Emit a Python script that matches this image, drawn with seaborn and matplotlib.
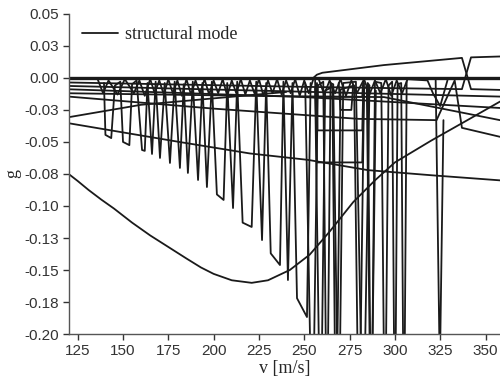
import matplotlib
matplotlib.use("Agg")
import matplotlib.pyplot as plt
import seaborn as sns

# ---------------- data ----------------
v_zero = [120, 358]
g_zero = [0.0, 0.0]

v_l1 = [120, 250, 337, 342, 358]
g_l1 = [-0.0036, -0.0070, -0.0088, 0.0160, 0.0167]

v_l2 = [120, 358]
g_l2 = [-0.0063, -0.0146]

v_l3 = [120, 250, 358]
g_l3 = [-0.0089, -0.0150, -0.0235]

v_l4 = [120, 220, 294, 358]
g_l4 = [-0.0120, -0.0140, -0.0150, -0.0330]

v_l5 = [120, 200, 280, 323, 333, 337, 358]
g_l5 = [-0.0146, -0.0240, -0.0320, -0.0330, -0.0020, -0.0390, -0.0460]

v_rise = [120, 160, 200, 240]
g_rise = [-0.0307, -0.0210, -0.0160, -0.0110]

v_desc = [120, 181, 220, 252, 285, 320, 358]
g_desc = [-0.0354, -0.0500, -0.0590, -0.0640, -0.0720, -0.0760, -0.0800]

v_upper = [255, 257, 260, 294, 337, 342, 358]
g_upper = [0.0, 0.0025, 0.0040, 0.0100, 0.0156, -0.0088, -0.0094]

v_struct = [120, 125, 131, 138, 145, 155, 165, 175, 185, 193, 200, 210, 221,
            230, 242, 253, 264, 277, 289, 300, 320, 340, 358]
g_struct = [-0.075, -0.0805, -0.0875, -0.095, -0.102, -0.113, -0.123, -0.132,
            -0.141, -0.148, -0.153, -0.158, -0.160, -0.158, -0.150, -0.138,
            -0.120, -0.097, -0.080, -0.066, -0.049, -0.033, -0.0185]

v_zig1 = [139.5, 140.3, 143.5, 145.5, 148.5, 150.0, 153.5, 155.0, 157.5, 160.5,
          162.0, 163.5, 166.0, 168.0, 170.4, 173.0, 175.9, 178.5, 181.4, 183.5,
          185.8, 188.5, 191.4, 193.8, 196.3, 199.0, 201.8, 205.5, 207.5, 210.7,
          213.0, 216.0, 221.0, 223.5, 226.7, 229.0, 231.5, 236.6, 238.5, 241.0,
          243.5, 246.0, 251.5, 253.5]
g_zig1 = [-0.004, -0.0445, -0.047, -0.006, -0.003, -0.050, -0.0525, -0.005, -0.002, -0.0563,
          -0.057, -0.004, -0.0594, -0.003, -0.0625, -0.004, -0.0664, -0.003, -0.0703, -0.005,
          -0.0742, -0.003, -0.0797, -0.004, -0.0852, -0.003, -0.091, -0.0953, -0.004, -0.1016,
          -0.003, -0.113, -0.1164, -0.003, -0.1266, -0.004, -0.137, -0.1461, -0.003, -0.1578,
          -0.004, -0.172, -0.1867, -0.004]

v_ztop = [136.0, 139.0, 142.0, 147.0, 151.0, 156.0, 159.0, 162.0, 165.0, 167.5,
          170.0, 172.5, 175.0, 177.5, 180.0, 182.5, 185.0, 187.5, 190.0, 192.5,
          195.0, 197.5, 200.0, 202.5, 205.0, 207.5, 210.0, 212.5, 215.0, 217.5,
          220.0, 222.5, 225.0, 227.5, 230.0, 232.5, 235.0, 237.5, 240.0, 242.5,
          245.0, 247.5, 250.0, 252.5, 255.0]
g_ztop = [-0.001, -0.012, -0.002, -0.013, -0.001, -0.012, -0.002, -0.014, -0.001, -0.012,
          -0.002, -0.013, -0.001, -0.012, -0.002, -0.014, -0.001, -0.013, -0.002, -0.012,
          -0.001, -0.013, -0.002, -0.012, -0.001, -0.014, -0.002, -0.012, -0.001, -0.013,
          -0.002, -0.012, -0.001, -0.014, -0.002, -0.012, -0.001, -0.013, -0.002, -0.012,
          -0.001, -0.014, -0.002, -0.012, -0.001]

v_ztop2 = [258.0, 261.0, 264.0, 267.0, 270.0, 273.0, 276.0, 279.0, 283.0, 286.0,
           289.0, 292.0, 295.0, 298.0, 301.0, 304.0, 307.0, 318.0, 321.0, 325.0, 329.0]
g_ztop2 = [-0.001, -0.013, -0.002, -0.012, -0.001, -0.014, -0.002, -0.012, -0.001, -0.013,
           -0.002, -0.012, -0.001, -0.014, -0.002, -0.012, -0.001, -0.002, -0.012, -0.022, -0.002]

v_zig2 = [250.5, 254.5, 257.5, 260.5, 262.5, 264.5, 266.0, 269.0, 271.5, 278.5,
          282.5, 286.0, 285.0, 287.0, 289.0, 292.5, 294.5, 296.5, 298.5, 300.0,
          301.5, 303.5, 305.0, 306.5]
g_zig2 = [-0.004, -0.300, -0.006, -0.003, -0.300, -0.004, -0.005, -0.300, -0.004, -0.003,
          -0.300, -0.006, -0.004, -0.300, -0.003, -0.004, -0.300, -0.006, -0.003, -0.300,
          -0.005, -0.004, -0.300, -0.003]

v_zig2b = [256.0, 259.0, 261.5, 265.5, 267.5, 270.0, 277.5, 280.2, 283.0, 284.5,
           286.8, 289.5]
g_zig2b = [-0.008, -0.300, -0.010, -0.007, -0.300, -0.009, -0.006, -0.300, -0.008, -0.007,
           -0.300, -0.010]

v_zig3 = [322.5, 324.8, 326.8]
g_zig3 = [-0.002, -0.230, -0.033]

v_box1 = [256.0, 257.0, 282.0, 283.0]
g_box1 = [-0.002, -0.066, -0.066, -0.004]
v_box2 = [256.8, 257.3, 282.0, 282.6]
g_box2 = [-0.005, -0.041, -0.041, -0.006]
v_box3 = [257.0, 257.5, 282.0, 282.5]
g_box3 = [-0.004, -0.0148, -0.0148, -0.003]
v_box4 = [269.0, 270.0, 276.0, 277.0]
g_box4 = [-0.004, -0.025, -0.025, -0.005]

x_ticks = [125, 150, 175, 200, 225, 250, 275, 300, 325, 350]
y_ticks = [0.05, 0.025, 0.0, -0.025, -0.05, -0.075, -0.1, -0.125, -0.15, -0.175, -0.2]
y_tick_labels = ["0.05", "0.03", "0.00", "-0.03", "-0.05", "-0.08", "-0.10",
                 "-0.13", "-0.15", "-0.18", "-0.20"]

# ---------------- plot ----------------
sns.set_style("ticks")
plt.rcParams["font.family"] = ["Liberation Sans", "DejaVu Sans"]

fig = plt.figure(figsize=(5.0, 3.84), dpi=100)
ax = fig.add_axes([0.138, 0.130, 0.862, 0.834])

ink = "#1a1a1a"
lw = 1.3
series = [
    (v_l1, g_l1), (v_l2, g_l2), (v_l3, g_l3), (v_l4, g_l4), (v_l5, g_l5),
    (v_rise, g_rise), (v_desc, g_desc), (v_upper, g_upper),
    (v_zig1, g_zig1), (v_ztop, g_ztop), (v_ztop2, g_ztop2),
    (v_zig2, g_zig2), (v_zig2b, g_zig2b), (v_zig3, g_zig3),
    (v_box1, g_box1), (v_box2, g_box2), (v_box3, g_box3), (v_box4, g_box4),
]
sns.lineplot(x=v_struct, y=g_struct, sort=False, estimator=None, color=ink,
             lw=lw, ax=ax, label="structural mode")
for vx, gy in series:
    sns.lineplot(x=vx, y=gy, sort=False, estimator=None, color=ink, lw=lw, ax=ax)
sns.lineplot(x=v_zero, y=g_zero, sort=False, estimator=None, color=ink, lw=2.4, ax=ax)

ax.set_xlim(120.2, 358)
ax.set_ylim(-0.2, 0.05)
ax.set_xticks(x_ticks)
ax.set_yticks(y_ticks)
ax.set_yticklabels(y_tick_labels)
ax.tick_params(axis="both", direction="out", length=4, width=1, labelsize=11, colors="#333333")
for s in ["top", "right"]:
    ax.spines[s].set_visible(False)
for s in ["left", "bottom"]:
    ax.spines[s].set_color("#555555")
    ax.spines[s].set_linewidth(1.0)

ax.set_xlabel("v [m/s]", family=["Liberation Serif", "DejaVu Serif"], fontsize=13, labelpad=1)
ax.set_ylabel("g", family=["Liberation Serif", "DejaVu Serif"], fontsize=13, labelpad=2)

leg = ax.legend(loc="upper left", frameon=False, prop={"family": "Liberation Serif", "size": 13},
                handlelength=2.0, handletextpad=0.4, borderaxespad=0.3,
                bbox_to_anchor=(0.0, 1.0))

fig.savefig("out.png", dpi=100)
